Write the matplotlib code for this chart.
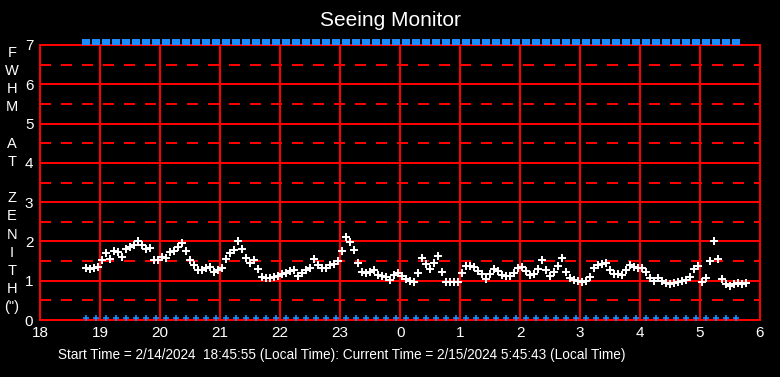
import matplotlib
matplotlib.use("Agg")
import matplotlib.pyplot as plt
import numpy as np

plt.rcParams['lines.scale_dashes'] = False
plt.rcParams['font.family'] = ['Liberation Sans', 'DejaVu Sans']

# FWHM samples, every 4 minutes starting 18:46 (minutes after 18:00)
fwhm_start_min = 46
fwhm_step_min = 4
fwhm_vals = [
    1.33, 1.30, 1.32, 1.36, 1.54, 1.71, 1.56, 1.76, 1.74, 1.60,
    1.80, 1.86, 1.92, 2.02, 1.90, 1.82, 1.84, 1.54, 1.52, 1.60,
    1.57, 1.74, 1.76, 1.85, 1.97, 1.75, 1.54, 1.40, 1.28, 1.27,
    1.32, 1.34, 1.22, 1.28, 1.33, 1.55, 1.70, 1.78, 2.02, 1.82,
    1.58, 1.46, 1.53, 1.29, 1.10, 1.07, 1.08, 1.09, 1.13, 1.17,
    1.19, 1.24, 1.28, 1.13, 1.20, 1.27, 1.32, 1.56, 1.40, 1.32,
    1.33, 1.40, 1.43, 1.50, 1.75, 2.12, 1.98, 1.78, 1.46, 1.22,
    1.20, 1.21, 1.28, 1.15, 1.12, 1.10, 1.02, 1.15, 1.20, 1.12,
    1.05, 0.99, 0.98, 1.20, 1.58, 1.42, 1.30, 1.45, 1.62, 1.22,
    0.98, 0.96, 0.97, 0.96, 1.20, 1.37, 1.38, 1.35, 1.26, 1.18,
    1.05, 1.18, 1.30, 1.25, 1.14, 1.12, 1.12, 1.20, 1.33, 1.34,
    1.25, 1.15, 1.18, 1.29, 1.53, 1.28, 1.13, 1.22, 1.37, 1.57,
    1.22, 1.06, 1.01, 1.00, 0.97, 1.00, 1.10, 1.33, 1.40, 1.43,
    1.46, 1.28, 1.18, 1.17, 1.15, 1.27, 1.40, 1.35, 1.33, 1.32,
    1.22, 1.08, 1.00, 1.08, 1.00, 0.93, 0.92, 0.95, 0.98, 1.00,
    1.03, 1.10, 1.30, 1.37, 0.97, 1.06, 1.50, 2.00, 1.55, 1.05,
    0.92, 0.87, 0.92, 0.93, 0.92, 0.94,
]

# status markers, every 10 minutes
status_start_min = 46
status_end_min = 696
status_step_min = 10
top_level = 7.07
bottom_level = 0.05

xtick_labels = ["18", "19", "20", "21", "22", "23", "0", "1", "2", "3", "4", "5", "6"]
ylabel_chars = ["F", "W", "H", "M", "", "A", "T", "", "Z", "E", "N", "I", "T", "H", "(\")"]

fwhm_hours = (fwhm_start_min + fwhm_step_min * np.arange(len(fwhm_vals))) / 60.0
status_hours = np.arange(status_start_min, status_end_min + 1, status_step_min) / 60.0

fig = plt.figure(figsize=(7.8, 3.77), dpi=100, facecolor="black")
ax = fig.add_axes([40.3 / 780, 57 / 377, 719.7 / 780, 275 / 377])
ax.set_facecolor("black")
ax.set_xlim(0, 12)
ax.set_ylim(0, 7)

red = "#ff0000"
for y in range(1, 7):
    ax.axhline(y, color=red, lw=1.3, antialiased=False, zorder=1)
for y in np.arange(0.5, 7, 1.0):
    ax.axhline(y, color=red, lw=1.3, ls=(0, (7.2, 7.2)), antialiased=False, zorder=1)
for x in range(1, 12):
    ax.axvline(x, color=red, lw=1.3, antialiased=False, zorder=1)
for s in ax.spines.values():
    s.set_color(red)
    s.set_linewidth(1.3)
    s.set_antialiased(False)

ax.plot(fwhm_hours, fwhm_vals, ls="none", marker="+", ms=6, mew=1.4,
        color="white", zorder=3)

blue = "#1a8cff"
rect = [(-1, -0.6), (1, -0.6), (1, 0.6), (-1, 0.6), (-1, -0.6)]
ax.plot(status_hours, [top_level] * len(status_hours), ls="none", marker=rect,
        ms=6.3, mew=0, color=blue, clip_on=False, zorder=4)
ax.plot(status_hours, [bottom_level] * len(status_hours), ls="none", marker="+",
        ms=5, mew=1.2, color=blue, clip_on=False, zorder=4)

ax.set_xticks(range(13))
ax.set_xticklabels(xtick_labels)
ax.set_yticks(range(8))
ax.tick_params(length=0, colors="white", labelsize=11)
ax.tick_params(axis="x", pad=4)
ax.tick_params(axis="y", pad=5)

fig.text(0.5, 1 - 21 / 377, "Seeing Monitor", color="white", fontsize=15,
         ha="center", va="center")
fig.text(12 / 780, 1 - 180 / 377, "\n".join(ylabel_chars), color="white",
         fontsize=10.5, ha="center", va="center", linespacing=1.38)
fig.text(342 / 780, 1 - 355 / 377,
         "Start Time = 2/14/2024  18:45:55 (Local Time): Current Time = 2/15/2024 5:45:43 (Local Time)",
         color="white", fontsize=9.8, ha="center", va="center")

fig.savefig("out.png", dpi=100, facecolor="black")
